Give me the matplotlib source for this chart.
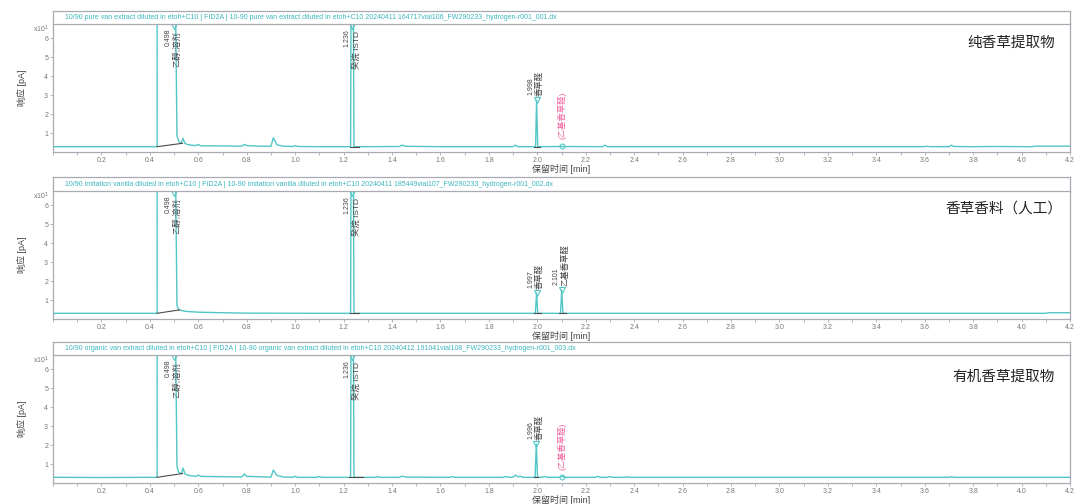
import matplotlib
matplotlib.use("Agg")
import matplotlib.pyplot as plt
from matplotlib.ticker import MultipleLocator, FormatStrFormatter

plt.rcParams['font.family'] = ['Liberation Sans', 'Noto Sans CJK SC', 'DejaVu Sans']

# ---------------- data ----------------
titles = [
    "10/90 pure van extract diluted in etoh+C10 | FID2A | 10-90 pure van extract diluted in etoh+C10 20240411 164717vial106_FW290233_hydrogen-r001_001.dx",
    "10/90 imitation vanilla diluted in etoh+C10 | FID2A | 10-90 imitation vanilla diluted in etoh+C10 20240411 185449vial107_FW290233_hydrogen-r001_002.dx",
    "10/90 organic van extract diluted in etoh+C10 | FID2A | 10-90 organic van extract diluted in etoh+C10 20240412 191041vial108_FW290233_hydrogen-r001_003.dx",
]
sample_names = ["纯香草提取物", "香草香料（人工）", "有机香草提取物"]

# signal in units of 10 pA (axis shows x10^1)
t1 = [0.0, 0.2, 0.43, 0.4301, 0.505, 0.512, 0.52, 0.53, 0.537, 0.545, 0.555, 0.57, 0.59, 0.60, 0.61,
      0.70, 0.78, 0.79, 0.80, 0.85, 0.90, 0.91, 0.925, 0.95, 0.99, 1.00, 1.01, 1.10, 1.229, 1.231,
      1.240, 1.243, 1.30, 1.43, 1.44, 1.46, 1.60, 1.90, 1.91, 1.92, 1.993, 1.997, 2.002, 2.10, 2.27,
      2.28, 2.29, 2.50, 3.60, 3.61, 3.62, 3.70, 3.71, 3.72, 3.80, 3.88, 4.04, 4.06, 4.20]
s1 = [0.28, 0.28, 0.28, 9.0, 9.0, 0.85, 0.55, 0.48, 0.72, 0.45, 0.40, 0.36, 0.34, 0.40, 0.33,
      0.32, 0.31, 0.40, 0.34, 0.31, 0.30, 0.75, 0.38, 0.31, 0.29, 0.34, 0.29, 0.28, 0.28, 9.0,
      9.0, 0.28, 0.28, 0.29, 0.36, 0.30, 0.28, 0.28, 0.36, 0.28, 0.28, 2.74, 0.28, 0.29, 0.28,
      0.36, 0.28, 0.28, 0.28, 0.31, 0.28, 0.28, 0.36, 0.29, 0.28, 0.29, 0.28, 0.31, 0.31]

t2 = [0.0, 0.2, 0.43, 0.4301, 0.505, 0.512, 0.52, 0.55, 0.60, 0.70, 0.80, 1.10, 1.229, 1.231,
      1.240, 1.243, 1.50, 1.992, 1.997, 2.002, 2.096, 2.101, 2.106, 2.50, 3.50, 4.10, 4.11, 4.20]
s2 = [0.30, 0.30, 0.30, 9.0, 9.0, 0.70, 0.48, 0.40, 0.36, 0.33, 0.31, 0.30, 0.30, 9.0,
      9.0, 0.30, 0.30, 0.30, 1.37, 0.30, 0.30, 1.53, 0.30, 0.30, 0.30, 0.30, 0.33, 0.33]

t3 = [0.0, 0.2, 0.43, 0.4301, 0.505, 0.512, 0.52, 0.53, 0.537, 0.545, 0.555, 0.57, 0.59, 0.60, 0.61,
      0.70, 0.78, 0.79, 0.80, 0.85, 0.90, 0.91, 0.925, 0.95, 0.99, 1.00, 1.01, 1.09, 1.10, 1.11,
      1.229, 1.231, 1.240, 1.243, 1.33, 1.34, 1.35, 1.43, 1.44, 1.46, 1.64, 1.65, 1.66, 1.86, 1.87,
      1.88, 1.90, 1.91, 1.92, 1.93, 1.94, 1.991, 1.996, 2.001, 2.02, 2.03, 2.04, 2.09, 2.10, 2.11,
      2.24, 2.25, 2.26, 2.29, 2.30, 2.31, 2.36, 2.37, 2.38, 2.60, 3.70, 3.71, 3.72, 4.20]
s3 = [0.30, 0.29, 0.30, 9.0, 9.0, 0.85, 0.55, 0.50, 0.78, 0.48, 0.42, 0.38, 0.35, 0.42, 0.35,
      0.33, 0.32, 0.48, 0.35, 0.33, 0.31, 0.68, 0.40, 0.32, 0.30, 0.35, 0.30, 0.30, 0.34, 0.30,
      0.30, 9.0, 9.0, 0.30, 0.30, 0.33, 0.30, 0.30, 0.36, 0.31, 0.30, 0.34, 0.30, 0.30, 0.35,
      0.30, 0.31, 0.42, 0.32, 0.36, 0.30, 0.30, 2.05, 0.30, 0.30, 0.35, 0.30, 0.30, 0.36, 0.30,
      0.30, 0.35, 0.30, 0.30, 0.34, 0.30, 0.30, 0.33, 0.30, 0.30, 0.30, 0.33, 0.30, 0.30]

# peak annotation tables
p1_rt = [0.498, 1.236, 1.998, 2.101]
p1_h = [9.0, 9.0, 2.74, 0.30]
p1_rt_text = ["0.498", "1.236", "1.998", ""]
p1_name = ["乙醇;溶剂", "癸烷 ISTD", "香草醛", "(乙基香草醛)"]
p1_found = [True, True, True, False]

p2_rt = [0.498, 1.236, 1.997, 2.101]
p2_h = [9.0, 9.0, 1.37, 1.53]
p2_rt_text = ["0.498", "1.236", "1.997", "2.101"]
p2_name = ["乙醇;溶剂", "癸烷 ISTD", "香草醛", "乙基香草醛"]
p2_found = [True, True, True, True]

p3_rt = [0.498, 1.236, 1.996, 2.101]
p3_h = [9.0, 9.0, 2.05, 0.31]
p3_rt_text = ["0.498", "1.236", "1.996", ""]
p3_name = ["乙醇;溶剂", "癸烷 ISTD", "香草醛", "(乙基香草醛)"]
p3_found = [True, True, True, False]

# integration baselines: (t_start, y_start, t_end, y_end)
b1 = [(0.43, 0.28, 0.535, 0.46), (1.225, 0.28, 1.265, 0.28), (1.985, 0.28, 2.01, 0.28)]
b2 = [(0.43, 0.30, 0.522, 0.48), (1.225, 0.30, 1.262, 0.30), (1.985, 0.30, 2.015, 0.30), (2.09, 0.30, 2.12, 0.30)]
b3 = [(0.43, 0.30, 0.535, 0.50), (1.222, 0.30, 1.282, 0.30), (1.985, 0.30, 2.005, 0.30)]

panels = [
    (t1, s1, p1_rt, p1_h, p1_rt_text, p1_name, p1_found, b1),
    (t2, s2, p2_rt, p2_h, p2_rt_text, p2_name, p2_found, b2),
    (t3, s3, p3_rt, p3_h, p3_rt_text, p3_name, p3_found, b3),
]

# ---------------- style ----------------
W, H = 1080, 504
TEAL = "#52c6c6"
TITLE_TEAL = "#3cb6bf"
FRAME = "#a9aab3"
TICK_C = "#777777"
LABEL_C = "#444444"
PINK = "#f0609c"
YMAX = 6.75

fig = plt.figure(figsize=(W / 100, H / 100), dpi=100)

# pixel geometry (top of title bar, top of plot, bottom of plot)
geo = [(11, 24, 152), (177, 191, 319), (342, 355, 483)]
left_px, right_px = 53, 1070
name_pos = [(0.985, 0.85), (0.993, 0.865), (0.985, 0.83)]


def fx(px):
    return px / W


def fy(py):
    return 1 - py / H


for i, (t, s, prt, ph, ptxt, pname, pfound, bl) in enumerate(panels):
    ttop, ptop, pbot = geo[i]
    ax = fig.add_axes([fx(left_px), fy(pbot), fx(right_px - left_px), (pbot - ptop) / H])
    tb = fig.add_axes([fx(left_px), fy(ptop), fx(right_px - left_px), (ptop - ttop) / H])
    tb.set_xticks([]); tb.set_yticks([])
    for sp in tb.spines.values():
        sp.set_color(FRAME); sp.set_linewidth(0.9)
    tb.text(0.012, 0.5, titles[i], color=TITLE_TEAL, fontsize=5.0, va='center', ha='left',
            transform=tb.transAxes)

    ax.plot(t, s, color=TEAL, lw=1.0, zorder=3)
    for (xa, ya, xb, yb) in bl:
        ax.plot([xa, xb], [ya, yb], color="#4a4a4a", lw=0.8, zorder=4)

    for rt, h, txt, name, found in zip(prt, ph, ptxt, pname, pfound):
        if found:
            if h > YMAX - 0.1:
                ax.plot(rt, YMAX - 0.12, marker='v', mfc='none', mec=TEAL, ms=4, mew=0.8,
                        zorder=5, clip_on=False)
                ax.annotate(txt, (rt, YMAX), xytext=(-4.0, -3.5), textcoords='offset points',
                            rotation=90, ha='center', va='top', fontsize=5, color=LABEL_C)
                ax.annotate(name, (rt, YMAX), xytext=(2.8, -5.0), textcoords='offset points',
                            rotation=90, ha='center', va='top', fontsize=6, color=LABEL_C)
            else:
                ax.plot(rt, h, marker='v', mfc='none', mec=TEAL, ms=4, mew=0.8, zorder=5)
                ax.annotate(txt, (rt, h), xytext=(-4.2, 3.5), textcoords='offset points',
                            rotation=90, ha='center', va='bottom', fontsize=5, color=LABEL_C)
                ax.annotate(name, (rt, h), xytext=(2.2, 3.0), textcoords='offset points',
                            rotation=90, ha='center', va='bottom', fontsize=6, color=LABEL_C)
        else:
            ax.plot(rt, h, marker='o', mfc='none', mec=TEAL, ms=3.5, mew=0.8, zorder=5)
            ax.annotate(name, (rt, h), xytext=(0.5, 5.0), textcoords='offset points',
                        rotation=90, ha='center', va='bottom', fontsize=6, color=PINK)

    ax.set_xlim(0.0, 4.2)
    ax.set_ylim(0, YMAX)
    ax.xaxis.set_minor_locator(MultipleLocator(0.1))
    ax.set_xticks([v / 10 for v in range(2, 43, 2)])
    ax.xaxis.set_major_formatter(FormatStrFormatter('%.1f'))
    ax.set_yticks([1, 2, 3, 4, 5, 6])
    ax.tick_params(axis='both', which='both', labelsize=5, colors=FRAME, labelcolor=TICK_C,
                   length=2, width=0.6, pad=1.5)
    for sp in ax.spines.values():
        sp.set_color(FRAME); sp.set_linewidth(0.9)
    ax.spines['top'].set_visible(False)
    ax.set_xlabel("保留时间 [min]", fontsize=6.5, color=LABEL_C, labelpad=0)
    ax.text(-0.004, 0.955, "x10$^{1}$", transform=ax.transAxes, ha='right', va='center',
            fontsize=5, color=TICK_C)
    fig.text(fx(22), fy((ptop + pbot) / 2), "响应 [pA]", rotation=90, ha='center', va='center',
             fontsize=6.5, color=LABEL_C)
    nx, ny = name_pos[i]
    ax.text(nx, ny, sample_names[i], transform=ax.transAxes, ha='right', va='center',
            fontsize=10.5, color="#222222", family=['Noto Sans CJK SC'])

fig.savefig("out.png", dpi=100)
